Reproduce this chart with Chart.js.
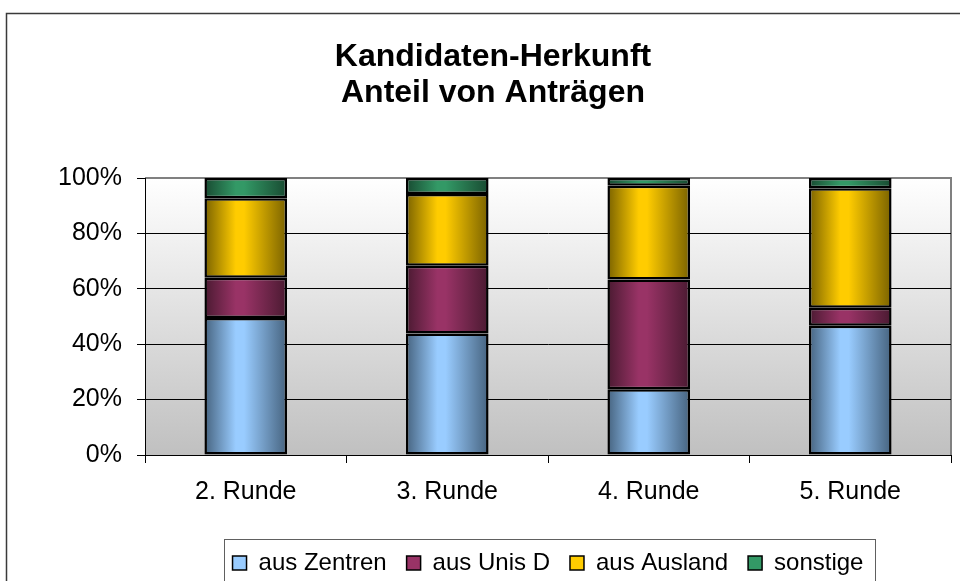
<!DOCTYPE html>
<html>
<head>
<meta charset="utf-8">
<script src="https://cdn.jsdelivr.net/npm/chart.js@4/dist/chart.umd.min.js"></script>
<style>
  html, body { margin: 0; padding: 0; background: #fff; }
  #wrap { width: 960px; height: 581px; }
</style>
</head>
<body>
<div id="wrap"><canvas id="grafico" width="960" height="581"></canvas></div>
<script>
// Daten (Anteile in %)
const runden = ['2. Runde', '3. Runde', '4. Runde', '5. Runde'];
const ausZentren = [49.5, 43.9, 23.7, 46.7];
const ausUnisD = [14.5, 24.4, 39.7, 6.5];
const ausAusland = [28.7, 25.9, 33.8, 43.1];
const sonstige = [7.3, 5.8, 2.8, 3.7];
const yTicks = [0, 20, 40, 60, 80, 100];

const fontFam = '"Liberation Sans", Arial, sans-serif';

// Farben: Grundfarbe + dunkle Kante (Zylinder-Effekt)
const farben = {
  zentren: ['#99ccff', '#46637f'],
  unis: ['#993366', '#4a1a31'],
  ausland: ['#ffcc00', '#7a6200'],
  sonst: ['#339966', '#184a31']
};

function zylinder(base, dark) {
  return function(context) {
    const chart = context.chart;
    const xs = chart.scales.x;
    if (!chart.chartArea || !xs || context.dataIndex === undefined) return base;
    const cx = xs.getPixelForValue(context.dataIndex);
    const w = (xs.width / runden.length) * 0.41;
    const g = chart.ctx.createLinearGradient(cx - w / 2, 0, cx + w / 2, 0);
    g.addColorStop(0, dark);
    g.addColorStop(0.38, base);
    g.addColorStop(0.48, base);
    g.addColorStop(1, dark);
    return g;
  };
}

const hintergrund = {
  id: 'hintergrund',
  beforeDraw(chart) {
    const {ctx, chartArea: a} = chart;
    ctx.save();
    ctx.fillStyle = '#fff';
    ctx.fillRect(0, 0, chart.width, chart.height);
    // äußerer Rahmen
    ctx.strokeStyle = '#3a3a3a';
    ctx.lineWidth = 1.5;
    ctx.strokeRect(6.5, 13.5, 1200, 1200);
    // Zeichenfläche mit Verlauf
    const g = ctx.createLinearGradient(0, a.top, 0, a.bottom);
    g.addColorStop(0, '#ffffff');
    g.addColorStop(1, '#c0c0c0');
    ctx.fillStyle = g;
    ctx.fillRect(a.left, a.top, a.right - a.left, a.bottom - a.top);
    ctx.strokeStyle = '#808080';
    ctx.lineWidth = 2;
    ctx.beginPath();
    ctx.moveTo(a.left, a.top);
    ctx.lineTo(a.right, a.top);
    ctx.lineTo(a.right, a.bottom);
    ctx.stroke();
    ctx.restore();
  },
  afterDraw(chart) {
    const lg = chart.legend;
    if (!lg || !lg.legendHitBoxes.length) return;
    const hb = lg.legendHitBoxes;
    const first = hb[0], last = hb[hb.length - 1];
    const ctx = chart.ctx;
    ctx.save();
    ctx.strokeStyle = '#606060';
    ctx.lineWidth = 1;
    ctx.strokeRect(Math.round(first.left - 9) + 0.5, 539.5,
      Math.round(last.left + last.width + 11 - (first.left - 9)), 100);
    ctx.restore();
  }
};

const ds = (label, data, f) => ({
  label, data,
  backgroundColor: zylinder(f[0], f[1]),
  legendColor: f[0],
  borderColor: '#000',
  borderWidth: 2.5,
  borderSkipped: false,
  inflateAmount: 0,
  barPercentage: 0.41,
  categoryPercentage: 1
});

const ctx = document.getElementById('grafico').getContext('2d');
const grafico = new Chart(ctx, {
  type: 'bar',
  data: {
    labels: runden,
    datasets: [
      ds('aus Zentren', ausZentren, farben.zentren),
      ds('aus Unis D', ausUnisD, farben.unis),
      ds('aus Ausland', ausAusland, farben.ausland),
      ds('sonstige', sonstige, farben.sonst)
    ]
  },
  options: {
    responsive: false,
    animation: false,
    layout: { padding: { top: 0, left: 35, right: 9, bottom: -4 } },
    plugins: {
      tooltip: { enabled: false },
      title: {
        display: true,
        text: ['Kandidaten-Herkunft', 'Anteil von Anträgen'],
        color: '#000',
        font: { family: fontFam, size: 32, weight: 'bold', lineHeight: 1.125 },
        padding: { top: 39.5, bottom: 66.5 }
      },
      legend: {
        display: true,
        position: 'bottom',
        fullSize: false,
        labels: {
          color: '#000',
          font: { family: fontFam, size: 24 },
          boxWidth: 14,
          boxHeight: 14,
          padding: 20,
          generateLabels(chart) {
            return chart.data.datasets.map((d, i) => ({
              text: d.label,
              fillStyle: d.legendColor,
              strokeStyle: '#000',
              lineWidth: 1.5,
              datasetIndex: i,
              hidden: false
            }));
          }
        }
      }
    },
    scales: {
      x: {
        stacked: true,
        afterFit(scale) { scale.height = 76; },
        grid: { offset: true, drawOnChartArea: false, drawTicks: true, tickLength: 8, color: '#000' },
        border: { color: '#000', width: 1 },
        ticks: { color: '#000', font: { family: fontFam, size: 25 }, padding: 14, maxRotation: 0 }
      },
      y: {
        stacked: true,
        min: 0,
        max: 100,
        afterFit(scale) { scale.width = 110; },
        afterBuildTicks(scale) { scale.ticks = yTicks.map(v => ({ value: v })); },
        grid: {
          color: c => (c.tick && c.tick.value === 100 ? 'rgba(0,0,0,0)' : '#000'),
          tickColor: '#000',
          tickLength: 8,
          lineWidth: 1
        },
        border: { color: '#000', width: 1 },
        ticks: {
          color: '#000',
          font: { family: fontFam, size: 25 },
          padding: 15,
          callback: v => v + '%'
        }
      }
    }
  },
  plugins: [hintergrund]
});
</script>
</body>
</html>
